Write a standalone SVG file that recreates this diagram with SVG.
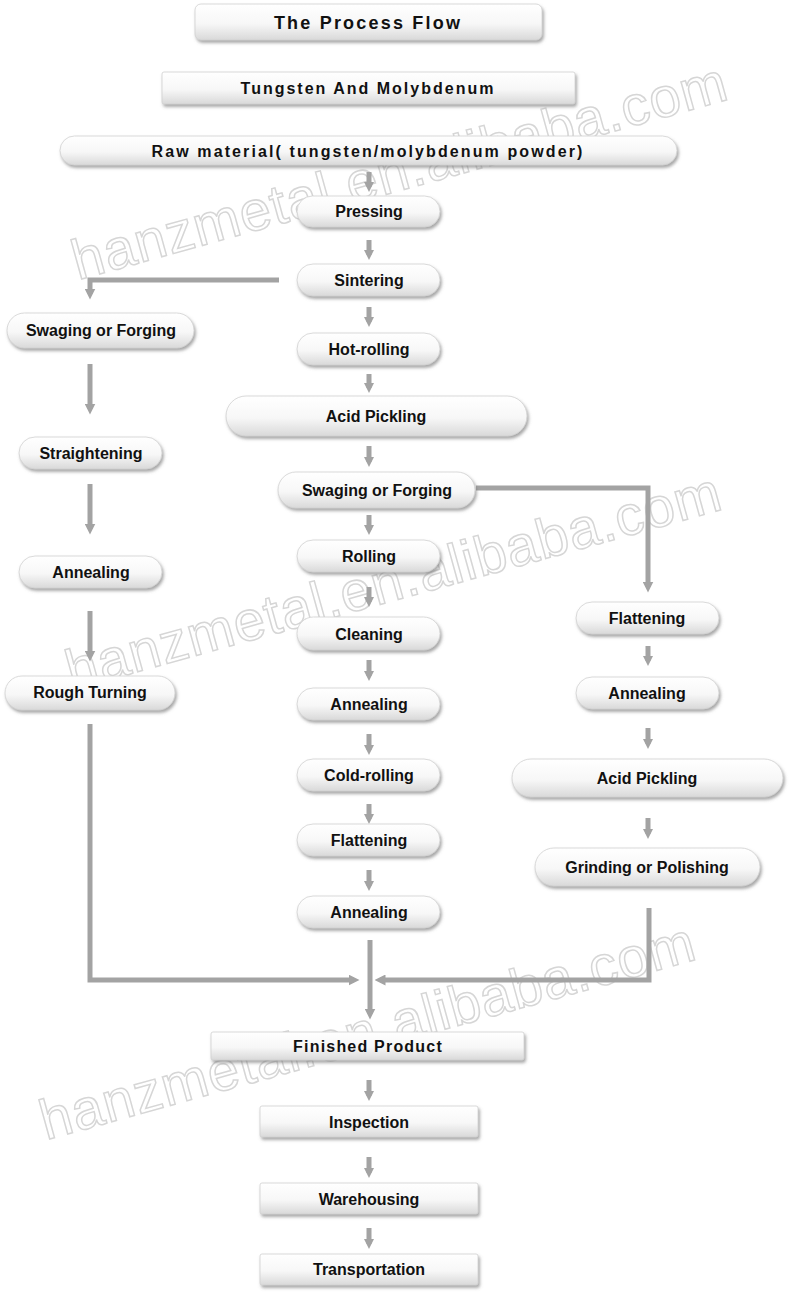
<svg xmlns="http://www.w3.org/2000/svg" width="789" height="1292" viewBox="0 0 789 1292">
<defs>
<linearGradient id="g" x1="0" y1="0" x2="0" y2="1">
<stop offset="0" stop-color="#ffffff"/>
<stop offset="0.55" stop-color="#f7f7f7"/>
<stop offset="1" stop-color="#d9d9d9"/>
</linearGradient>
<filter id="sh" x="-10%" y="-30%" width="120%" height="170%">
<feDropShadow dx="1.5" dy="2.5" stdDeviation="1.5" flood-color="#777" flood-opacity="0.65"/>
</filter>
<marker id="ah" viewBox="0 0 10 10" refX="5" refY="5" markerWidth="2.2" markerHeight="2.2" orient="auto" markerUnits="strokeWidth">
<path d="M0,0 L10,5 L0,10 z" fill="#a3a3a3"/>
</marker>
<marker id="sa" viewBox="0 0 10 10" refX="5" refY="5" markerWidth="2.2" markerHeight="2" orient="auto" markerUnits="strokeWidth">
<path d="M0,0 L10,5 L0,10 z" fill="#a3a3a3"/>
</marker>
</defs>
<style>
.box{fill:url(#g);stroke:#d0d0d0;stroke-width:0.8;filter:url(#sh)}
.t{font-family:"Liberation Sans",Arial,sans-serif;font-weight:bold;font-size:16px;fill:#111;text-anchor:middle;dominant-baseline:central}
.ts{letter-spacing:2px}
.c{fill:none;stroke:#a3a3a3;stroke-width:5}
.ca{marker-end:url(#ah)}
.s{fill:none;stroke:#a3a3a3;stroke-width:5;marker-end:url(#sa)}
.wm{font-family:"Liberation Sans",Arial,sans-serif;font-size:56px;fill:#fff;stroke:#d6d6d6;stroke-width:1.5;letter-spacing:1px}
</style>
<rect width="789" height="1292" fill="#ffffff"/>

<g id="watermarks">
<text class="wm" transform="translate(78,280) rotate(-15.5)">hanzmetal.en.alibaba.com</text>
<text class="wm" transform="translate(72,690) rotate(-15.5)">hanzmetal.en.alibaba.com</text>
<text class="wm" transform="translate(46,1140) rotate(-15.5)">hanzmetal.en.alibaba.com</text>
</g>

<g id="connectors">
<line class="s" x1="369" y1="172" x2="369" y2="187"/>
<line class="s" x1="369" y1="240" x2="369" y2="255"/>
<line class="s" x1="369" y1="307" x2="369" y2="322"/>
<line class="s" x1="369" y1="374" x2="369" y2="388"/>
<line class="s" x1="369" y1="446" x2="369" y2="462"/>
<line class="s" x1="369" y1="515" x2="369" y2="530"/>
<line class="s" x1="369" y1="587" x2="369" y2="602"/>
<line class="s" x1="369" y1="660" x2="369" y2="676"/>
<line class="s" x1="369" y1="734" x2="369" y2="750"/>
<line class="s" x1="369" y1="804" x2="369" y2="819"/>
<line class="s" x1="369" y1="870" x2="369" y2="886"/>
<path class="c ca" d="M279,280 H90 V294"/>
<line class="c ca" x1="90" y1="364" x2="90" y2="409"/>
<line class="c ca" x1="90" y1="484" x2="90" y2="529"/>
<line class="c ca" x1="90" y1="611" x2="90" y2="656"/>
<path class="c ca" d="M90,724 V980 H354"/>
<line class="c ca" x1="370" y1="940" x2="370" y2="1014"/>
<path class="c ca" d="M649,908 V980 H380"/>
<path class="c ca" d="M476,488 H648 V587"/>
<line class="s" x1="648" y1="646" x2="648" y2="661"/>
<line class="s" x1="648" y1="728" x2="648" y2="744"/>
<line class="s" x1="648" y1="818" x2="648" y2="834"/>
<line class="s" x1="369" y1="1080" x2="369" y2="1096"/>
<line class="s" x1="369" y1="1157" x2="369" y2="1173"/>
<line class="s" x1="369" y1="1228" x2="369" y2="1244"/>
</g>

<g id="title"><rect class="box" x="195" y="4" width="347" height="36" rx="6"/><text class="t" x="368" y="23" style="font-size:18px;letter-spacing:2.2px">The Process Flow</text></g>
<g id="tungsten"><rect class="box" x="162" y="72" width="413" height="32" rx="2"/><text class="t ts" x="368" y="88">Tungsten And Molybdenum</text></g>
<g id="raw"><rect class="box" x="60" y="136" width="617" height="29" rx="14.5"/><text class="t ts" x="368" y="151" style="letter-spacing:2.1px">Raw material( tungsten/molybdenum powder)</text></g>

<g id="pressing"><rect class="box" x="297" y="196" width="143" height="31" rx="15.5"/><text class="t" x="369" y="211">Pressing</text></g>
<g id="sintering"><rect class="box" x="297" y="264" width="143" height="32" rx="16"/><text class="t" x="369" y="280">Sintering</text></g>
<g id="hotrolling"><rect class="box" x="297" y="333" width="143" height="32" rx="16"/><text class="t" x="369" y="349">Hot-rolling</text></g>
<g id="acid1"><rect class="box" x="226" y="396" width="301" height="40" rx="20"/><text class="t" x="376" y="416">Acid Pickling</text></g>
<g id="swaging2"><rect class="box" x="278" y="472" width="197" height="36" rx="18"/><text class="t" x="377" y="490">Swaging or Forging</text></g>
<g id="rolling"><rect class="box" x="297" y="540" width="143" height="32" rx="16"/><text class="t" x="369" y="556">Rolling</text></g>
<g id="cleaning"><rect class="box" x="297" y="617" width="143" height="33" rx="16.5"/><text class="t" x="369" y="634">Cleaning</text></g>
<g id="annealing2"><rect class="box" x="297" y="688" width="143" height="32" rx="16"/><text class="t" x="369" y="704">Annealing</text></g>
<g id="coldrolling"><rect class="box" x="297" y="759" width="143" height="32" rx="16"/><text class="t" x="369" y="775">Cold-rolling</text></g>
<g id="flattening2"><rect class="box" x="297" y="824" width="143" height="32" rx="16"/><text class="t" x="369" y="840">Flattening</text></g>
<g id="annealing3"><rect class="box" x="297" y="896" width="143" height="32" rx="16"/><text class="t" x="369" y="912">Annealing</text></g>

<g id="swaging1"><rect class="box" x="7" y="313" width="187" height="35" rx="17.5"/><text class="t" x="101" y="330">Swaging or Forging</text></g>
<g id="straightening"><rect class="box" x="19" y="437" width="143" height="32" rx="16"/><text class="t" x="91" y="453">Straightening</text></g>
<g id="annealing1"><rect class="box" x="19" y="556" width="143" height="32" rx="16"/><text class="t" x="91" y="572">Annealing</text></g>
<g id="roughturning"><rect class="box" x="5" y="676" width="170" height="34" rx="17"/><text class="t" x="90" y="692">Rough Turning</text></g>

<g id="flattening1"><rect class="box" x="576" y="602" width="143" height="32" rx="16"/><text class="t" x="647" y="618">Flattening</text></g>
<g id="annealing4"><rect class="box" x="576" y="677" width="143" height="32" rx="16"/><text class="t" x="647" y="693">Annealing</text></g>
<g id="acid2"><rect class="box" x="512" y="759" width="271" height="38" rx="19"/><text class="t" x="647" y="778">Acid Pickling</text></g>
<g id="grinding"><rect class="box" x="535" y="848" width="225" height="38" rx="19"/><text class="t" x="647" y="867">Grinding or Polishing</text></g>

<g id="finished"><rect class="box" x="211" y="1032" width="313" height="28" rx="2"/><text class="t" x="368" y="1046" style="letter-spacing:1.2px">Finished Product</text></g>
<g id="inspection"><rect class="box" x="260" y="1106" width="218" height="31" rx="2"/><text class="t" x="369" y="1122">Inspection</text></g>
<g id="warehousing"><rect class="box" x="260" y="1183" width="218" height="31" rx="2"/><text class="t" x="369" y="1199">Warehousing</text></g>
<g id="transportation"><rect class="box" x="260" y="1254" width="218" height="31" rx="2"/><text class="t" x="369" y="1269">Transportation</text></g>
</svg>
